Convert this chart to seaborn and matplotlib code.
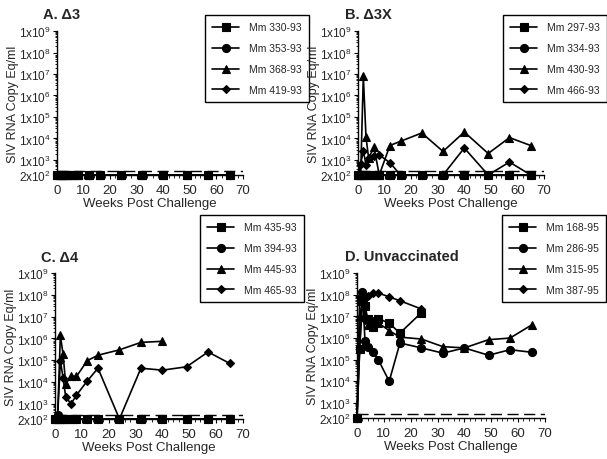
import numpy as np
import pandas as pd
import matplotlib
matplotlib.use("Agg")
import matplotlib.pyplot as plt
import matplotlib.ticker as mticker
import seaborn as sns

sns.set_style("ticks")
plt.rcParams['font.family'] = ['Liberation Sans', 'DejaVu Sans']
plt.rcParams['mathtext.fontset'] = 'custom'
plt.rcParams['mathtext.rm'] = 'Liberation Sans'
plt.rcParams['mathtext.it'] = 'Liberation Sans'
plt.rcParams['mathtext.bf'] = 'Liberation Sans:bold'

# ---------------- data ----------------
weeks_full = [0, 1, 2, 3, 4, 6, 8, 12, 16, 24, 32, 40, 49, 57, 65]
weeks_to24 = [0, 1, 2, 3, 4, 6, 8, 12, 16, 24]
weeks_to40 = [0, 1, 2, 3, 4, 6, 8, 12, 16, 24, 32, 40]
LIMIT = 200
DETECTION = 300

# Panel A  (delta3) - all below detection
a_names = ["Mm 330-93", "Mm 353-93", "Mm 368-93", "Mm 419-93"]
a_330 = [200] * 15
a_353 = [200] * 15
a_368 = [200] * 15
a_419 = [200] * 15

# Panel B  (delta3X)
b_names = ["Mm 297-93", "Mm 334-93", "Mm 430-93", "Mm 466-93"]
b_297 = [200] * 15
b_334 = [200] * 15
b_430 = [200, 200, 8e6, 1.2e4, 1.2e3, 3.9e3, 200, 4.7e3, 7.4e3, 1.8e4, 2.5e3, 2.0e4, 2.0e3, 1.1e4, 4.7e3]
b_466 = [200, 650, 2.7e3, 600, 1.2e3, 1.6e3, 1.7e3, 750, 200, 200, 200, 3.6e3, 200, 800, 200]

# Panel C  (delta4)
c_names = ["Mm 435-93", "Mm 394-93", "Mm 445-93", "Mm 465-93"]
c_435 = [200] * 15
c_394 = [200, 320, 200, 200, 200, 200, 200, 200, 200, 200, 200, 200, 200, 200, 200]
c_445 = [200, 300, 1.4e6, 1.9e5, 8e3, 1.9e4, 1.8e4, 9.5e4, 1.7e5, 3.0e5, 6.6e5, 7.4e5]
c_465 = [200, 300, 9.5e4, 1.6e4, 2.0e3, 1.0e3, 2.5e3, 1.1e4, 4.3e4, 200, 4.3e4, 3.5e4, 5.0e4, 2.4e5, 7.2e4]

# Panel D  (unvaccinated)
d_names = ["Mm 168-95", "Mm 286-95", "Mm 315-95", "Mm 387-95"]
d_168 = [200, 3e5, 5e7, 3e7, 8e6, 3.1e6, 8e6, 4.8e6, 1.7e6, 1.5e7]
d_286 = [200, 3e5, 1.4e8, 7e5, 4e5, 2.2e5, 9.6e4, 1.0e4, 5.9e5, 3.5e5, 2.0e5, 3.5e5, 1.6e5, 2.9e5, 2.2e5]
d_315 = [200, 1e7, 5e7, 1e7, 4e6, 6e6, 5e6, 2.2e6, 1.1e6, 9e5, 4e5, 3.5e5, 8.4e5, 1.0e6, 4.0e6]
d_387 = [200, 8e7, 5e7, 7e6, 9e7, 1.2e8, 1.2e8, 8e7, 5.3e7, 2.2e7]

ytick_vals = [2e2, 1e3, 1e4, 1e5, 1e6, 1e7, 1e8, 1e9]
ytick_labels = [r"2x10$^{2}$", r"1x10$^{3}$", r"1x10$^{4}$", r"1x10$^{5}$",
                r"1x10$^{6}$", r"1x10$^{7}$", r"1x10$^{8}$", r"1x10$^{9}$"]
xtick_vals = [0, 10, 20, 30, 40, 50, 60, 70]

markers = ["s", "o", "^", "D"]
msizes = [5.6, 5.8, 5.8, 4.4]
zorders = [6, 5, 4, 3]

panels = [
    dict(rect=[0.0939, 0.6174, 0.3064, 0.313], title="A. \u03943", tpos=(43, 15),
         leg=(205, 16), names=a_names,
         series=[(weeks_full, a_330), (weeks_full, a_353), (weeks_full, a_368), (weeks_full, a_419)]),
    dict(rect=[0.5898, 0.6174, 0.3064, 0.313], title="B. \u03943X", tpos=(345, 15),
         leg=(503, 16), names=b_names,
         series=[(weeks_full, b_297), (weeks_full, b_334), (weeks_full, b_430), (weeks_full, b_466)]),
    dict(rect=[0.0906, 0.087, 0.3097, 0.317], title="C. \u03944", tpos=(41, 258),
         leg=(200, 216), names=c_names,
         series=[(weeks_full, c_435), (weeks_full, c_394), (weeks_to40, c_445), (weeks_full, c_465)]),
    dict(rect=[0.5881, 0.089, 0.3097, 0.315], title="D. Unvaccinated", tpos=(345, 257),
         leg=(502, 216), names=d_names,
         series=[(weeks_to24, d_168), (weeks_full, d_286), (weeks_full, d_315), (weeks_to24, d_387)]),
]

W, H = 607, 460
fig = plt.figure(figsize=(W / 100, H / 100), dpi=100)

for p in panels:
    ax = fig.add_axes(p["rect"])
    for i, (name, (wk, vals)) in enumerate(zip(p["names"], p["series"])):
        df = pd.DataFrame({"week": wk, "copies": vals})
        sns.lineplot(data=df, x="week", y="copies", ax=ax, color="black",
                     marker=markers[i], markersize=msizes[i], markeredgecolor="black",
                     markeredgewidth=0.8,
                     linewidth=1.2, label=name, zorder=zorders[i], clip_on=False,
                     legend=True)
    ax.axhline(DETECTION, color="black", linewidth=1.0, dashes=(8, 4), zorder=1)
    ax.set_yscale("log")
    ax.set_ylim(LIMIT, 1e9)
    ax.set_xlim(0, 70)
    ax.set_yticks(ytick_vals)
    ax.set_yticklabels(ytick_labels, fontsize=8.5)
    ax.yaxis.set_minor_locator(mticker.LogLocator(base=10, subs=np.arange(2, 10), numticks=20))
    ax.yaxis.set_minor_formatter(mticker.NullFormatter())
    ax.set_xticks(xtick_vals)
    ax.set_xticklabels([str(v) for v in xtick_vals], fontsize=9.5)
    ax.xaxis.set_minor_locator(mticker.MultipleLocator(2))
    ax.tick_params(axis="both", which="major", direction="out", length=3, width=0.8, pad=1.5, color="black")
    ax.tick_params(axis="x", which="major", pad=3.5)
    ax.tick_params(axis="both", which="minor", direction="out", length=1.8, width=0.6, color="black")
    for s in ["top", "right"]:
        ax.spines[s].set_visible(False)
    for s in ["left", "bottom"]:
        ax.spines[s].set_linewidth(1.0)
        ax.spines[s].set_color("black")
    ax.set_xlabel("Weeks Post Challenge", fontsize=9.5, labelpad=1)
    ax.set_ylabel("SIV RNA Copy Eq/ml", fontsize=9, labelpad=0)
    leg = ax.legend(loc="upper left",
                    bbox_to_anchor=(p["leg"][0] / W, 1 - p["leg"][1] / H),
                    bbox_transform=fig.transFigure, fontsize=7.5, frameon=True,
                    fancybox=False, edgecolor="black", framealpha=1,
                    handlelength=2.6, labelspacing=1.05, borderpad=0.7,
                    handletextpad=0.9, borderaxespad=0)
    leg.get_frame().set_linewidth(1.0)
    fig.text(p["tpos"][0] / W, 1 - p["tpos"][1] / H, p["title"], fontsize=10.5,
             fontweight="bold", va="center", ha="left")

fig.savefig("out.png", dpi=100)
